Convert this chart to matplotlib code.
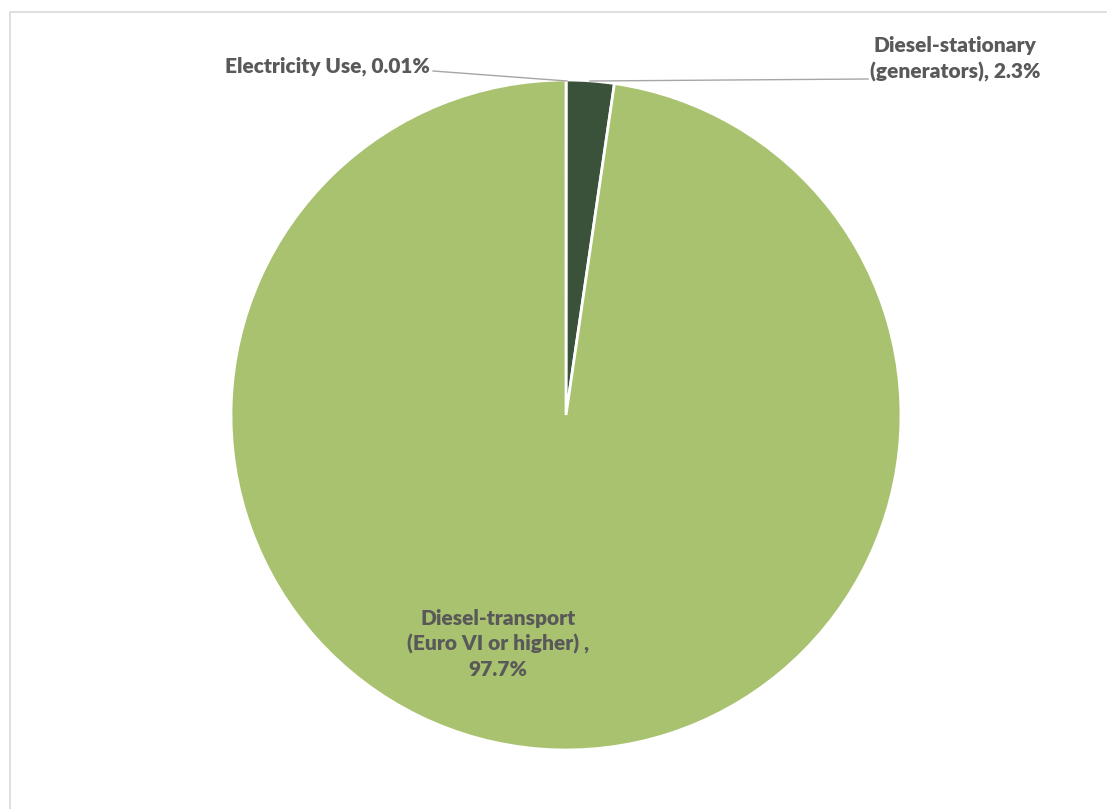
import matplotlib
matplotlib.use("Agg")
import matplotlib.pyplot as plt
from matplotlib.patches import Rectangle

categories = ["Electricity Use", "Diesel-stationary\n(generators)", "Diesel-transport\n(Euro VI or higher)"]
values = [0.01, 2.3, 97.7]
value_labels = ["0.01%", "2.3%", "97.7%"]
colors = ["#3A5239", "#3A5239", "#A9C26F"]

W, H = 1107, 809
fig = plt.figure(figsize=(W / 100, H / 100), dpi=100)
ax = fig.add_axes([0, 0, 1, 1])
ax.set_xlim(0, W)
ax.set_ylim(0, H)
ax.set_aspect("equal")
ax.axis("off")

# chart border
ax.add_patch(Rectangle((10, -5), W, H - 12 + 5, fill=False, edgecolor="#D9D9D9", linewidth=1.2))

cx, cy, r = 566, H - 415, 335
ax.pie(values, colors=colors, startangle=90, counterclock=False,
       center=(cx, cy), radius=r, frame=True,
       wedgeprops=dict(edgecolor="white", linewidth=2))
ax.set_xlim(0, W)
ax.set_ylim(0, H)
ax.axis("off")

tc = "#595959"
font = dict(family="Lato", fontsize=15, fontweight="heavy", color=tc)

# Electricity label
ax.plot([433, 567], [H - 71, H - 81], color="#A6A6A6", lw=1)
ax.text(430, H - 66, f"{categories[0]}, {value_labels[0]}", ha="right", va="center", **font)

# Diesel-stationary label
ax.plot([590, 868], [H - 81, H - 79], color="#A6A6A6", lw=1)
ax.text(955, H - 59, "Diesel-stationary\n(generators), " + value_labels[1],
        ha="center", va="center", linespacing=1.38, **font)

# Diesel-transport label
ax.text(498, H - 644, "Diesel-transport\n(Euro VI or higher) ,\n" + value_labels[2],
        ha="center", va="center", linespacing=1.38, **font)

fig.savefig("out.png", dpi=100)
